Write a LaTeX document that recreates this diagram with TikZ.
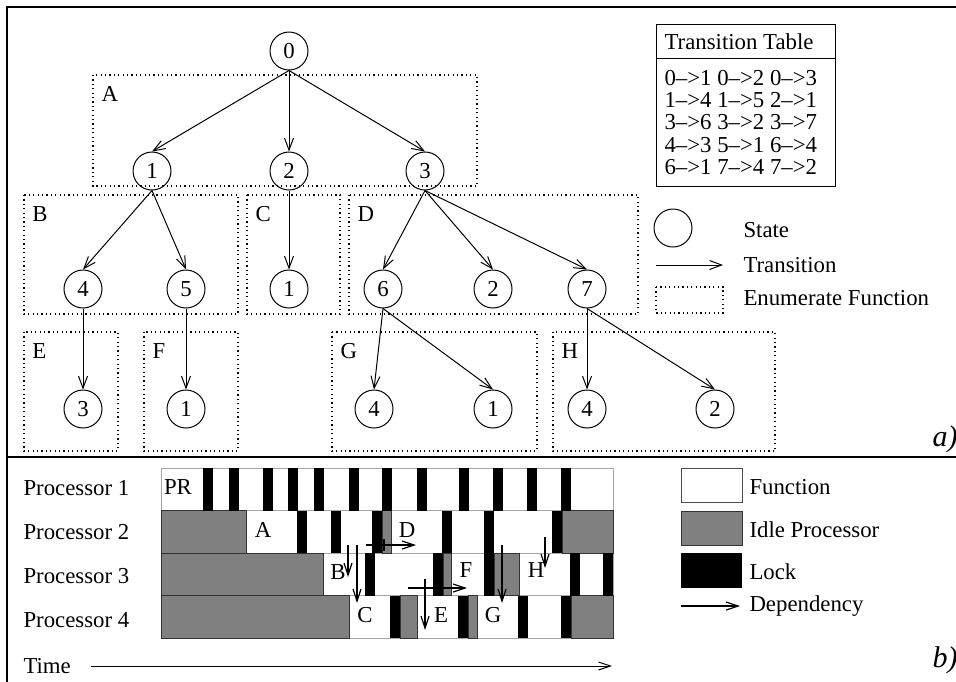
\documentclass[tikz,border=0pt]{standalone}
\usepackage{fontspec}
\setmainfont{Liberation Serif}
\usepackage{tikz}
\usetikzlibrary{arrows.meta,positioning}
\definecolor{idle1}{HTML}{808080}
\def\rowsep{42.5}

\begin{document}
\begin{tikzpicture}[x=0.5pt,y=-0.5pt,line width=0.5pt,font=\fontsize{11.4}{13.7}\selectfont]
\tikzstyle{every node}=[inner sep=0pt]
\tikzstyle{state}=[circle,draw,minimum size=19pt]
\tikzstyle{trans}=[-{Straight Barb[length=6pt,width=4.5pt]}]
\tikzstyle{enum}=[draw,dash pattern=on 0.6pt off 1.6pt,line width=0.6pt]
\tikzstyle{annot}=[anchor=west]
\tikzstyle{func}=[draw=black!35,fill=white]
\tikzstyle{idle}=[draw=black!80,fill=idle1]
\tikzstyle{lock}=[fill=black]
\tikzstyle{dep}=[line width=0.6pt,-{Straight Barb[length=6pt,width=4pt]}]
\tikzstyle{tag}=[anchor=east,font=\fontsize{15}{17}\selectfont\itshape]

\useasboundingbox (0,0) rectangle (956,681);

% Frame of both parts
\draw[line width=1pt] (7,690) -- (7,7) -- (965,7);
\draw[line width=1pt] (7,457) -- (965,457);

%%%
%% TOP: state tree
%%%
% Draw the enumerate functions
\foreach \name/\xa/\ya/\xb/\yb in {A/93/75/477/186, B/24/195/238/314, C/247/195/340/314, D/349/195/638/314,
  E/24/332/118/451, F/144/332/238/451, G/332/332/537/451, H/553/332/775/451}
{
  \draw[enum] (\xa,\ya) rectangle (\xb,\yb);
  \node[anchor=north west] (L-\name) at (\xa+8,\ya+11) {\name};
}

% Draw the states
\foreach \name/\x/\y/\lab in {0/289/51/0, 1/152/171/1, 2/289/171/2, 3/425/171/3,
  4/83/289/4, 5/186/289/5, c1/289/289/1, 6/383/289/6, d2/493/289/2, 7/587/289/7,
  e3/83/409/3, f1/186/409/1, g4/374/409/4, g1/493/409/1, h4/587/409/4, h2/715/409/2}
  \node[state] (S-\name) at (\x,\y) {\lab};

% Connect the states
\foreach \source/\dest in {0/1,0/2,0/3,1/4,1/5,2/c1,3/6,3/d2,3/7,4/e3,5/f1,6/g4,6/g1,7/h4,7/h2}
  \draw[trans] (S-\source.south) -- (S-\dest.north);

% Transition table
\draw (656,24) rectangle (835,186);
\draw (656,58) -- (835,58);
\node (T-head) at (739,42) {Transition Table};
\foreach \row [count=\i] in {{0-->1 0-->2 0-->3},{1-->4 1-->5 2-->1},{3-->6 3-->2 3-->7},
  {4-->3 5-->1 6-->4},{6-->1 7-->4 7-->2}}
  \node[annot] (T-\i) at (664,55.5+22.3*\i) {\row};

% Legend of the tree
\node[state] (K-state) at (673,228) {};
\node[annot] (K-statetxt) at (743,230) {State};
\coordinate (K-tl) at (656,265);
\node[annot] (K-trans) at (743,265) {Transition};
\draw[trans] (K-tl) -- ([xshift=-10pt]K-trans.west);
\draw[enum] (656,287) rectangle (723,313);
\node[annot] (K-enum) at (743,298) {Enumerate Function};

\node[tag] (lab-a) at (958,439) {a)};

%%%
%% BOTTOM: schedule
%%%
\foreach \r in {1,...,4}
  \node[annot] (P-\r) at (23,444+44*\r) {Processor \r};

% Functions, idle time and locks
\foreach \r/\xa/\xb in {1/161/613, 2/246/382, 2/391/562, 3/323/443, 3/451/494, 3/519/613,
  4/349/400, 4/417/468, 4/477/571}
  \draw[func] (\xa,425.5+\rowsep*\r) rectangle (\xb,468+\rowsep*\r);
\foreach \r/\xa/\xb in {2/161/246, 2/382/391, 2/562/613, 3/161/323, 3/443/451, 3/494/519,
  4/161/349, 4/400/417, 4/468/477, 4/571/613}
  \draw[idle] (\xa,425.5+\rowsep*\r) rectangle (\xb,468+\rowsep*\r);
\foreach \r/\x in {1/203,1/229,1/263,1/288,1/314,1/349,1/382,1/417,1/459,1/493,1/527,1/561,
  2/297,2/331,2/372,2/442,2/484,2/552, 3/365,3/433,3/484,3/570,3/603, 4/390,4/458,4/518,4/561}
  \fill[lock] (\x,425.5+\rowsep*\r) rectangle (\x+10,468+\rowsep*\r);

% Function names
\foreach \name/\x/\y in {PR/178/487, A/263/530, D/407/530, B/338/572, F/466/570,
  H/536/570, C/365/615, E/441/615, G/493/615}
  \node (F-\name) at (\x,\y) {\name};

% Dependencies
\foreach \name/\xa/\ya/\xb/\yb in {B/348/545/348/577, C/357/545/357/603, D/366/545/416/545,
  E/425/579/425/630, F/408/588/467/588, G/502/545/502/603, H/545/537/545/568}
{
  \coordinate (d\name-s) at (\xa,\ya);
  \coordinate (d\name-e) at (\xb,\yb);
  \draw[dep] (d\name-s) -- (d\name-e);
}
\draw[line width=0.6pt] (384,539) -- (384,551);

% Time axis
\node[annot] (time) at (23,666) {Time};
\coordinate (time-end) at (612,666);
\draw[dep,line width=0.5pt] ([xshift=10pt]time.east) -- (time-end);

% Legend of the schedule
\draw[func,draw=black!70] (681,468) rectangle (742,502);
\node[annot] (K-func) at (749,487) {Function};
\draw[idle] (681,511) rectangle (742,545);
\node[annot] (K-idle) at (749,530) {Idle Processor};
\fill[lock] (681,553) rectangle (742,588);
\node[annot] (K-lock) at (749,572) {Lock};
\coordinate (K-dl) at (681,606);
\node[annot] (K-dep) at (749,606) {Dependency};
\draw[dep] (K-dl) -- ([xshift=-4.5pt]K-dep.west);

\node[tag] (lab-b) at (958,660) {b)};
\end{tikzpicture}
\end{document}
